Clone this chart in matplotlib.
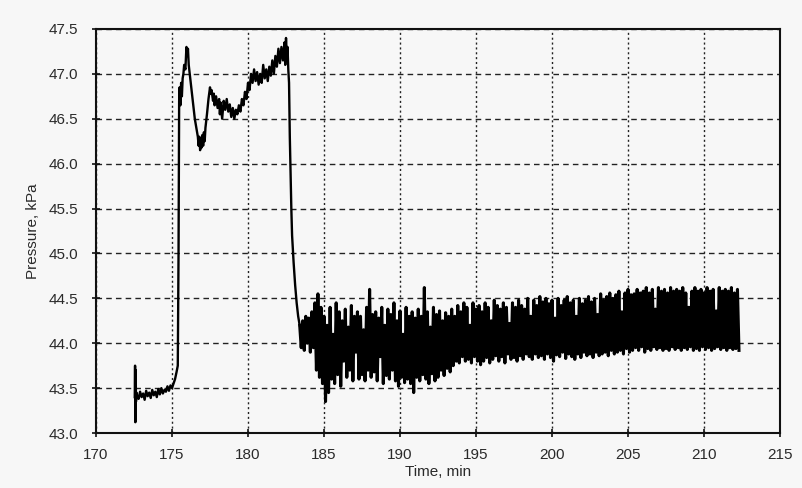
import matplotlib
matplotlib.use("Agg")
from matplotlib import pyplot as plt
import numpy as np

plt.rcParams['font.family'] = ['Liberation Sans', 'DejaVu Sans']

# start-up and first rise (min, kPa)
t_start = [172.55, 172.57, 172.59, 172.61, 172.63, 172.66,
           172.7, 172.8, 172.9, 173.0, 173.1, 173.2, 173.3, 173.4, 173.5, 173.6,
           173.7, 173.8, 173.9, 174.0, 174.1, 174.2, 174.3, 174.4, 174.5, 174.6,
           174.7, 174.8, 174.9, 175.0, 175.1, 175.2, 175.3, 175.38, 175.43, 175.47]
p_start = [43.40, 43.75, 43.12, 43.70, 43.35, 43.45,
           43.42, 43.38, 43.46, 43.40, 43.44, 43.37, 43.47, 43.41, 43.45, 43.39,
           43.48, 43.42, 43.46, 43.40, 43.49, 43.43, 43.50, 43.44, 43.48, 43.46,
           43.52, 43.47, 43.53, 43.50, 43.55, 43.60, 43.68, 43.75, 45.00, 46.70]

# high-pressure period and drop
t_high = [175.5, 175.55, 175.6, 175.65, 175.7, 175.75, 175.8, 175.88, 175.95, 176.0,
          176.05, 176.1, 176.2, 176.3, 176.4, 176.5, 176.6, 176.7, 176.75, 176.8,
          176.85, 176.9, 176.95, 177.0, 177.05, 177.1, 177.15, 177.2, 177.3, 177.4,
          177.5, 177.55, 177.6, 177.7, 177.75, 177.8, 177.9, 178.0, 178.1, 178.15,
          178.2, 178.3, 178.4, 178.5, 178.6, 178.7, 178.8, 178.9, 179.0, 179.1,
          179.2, 179.3, 179.4, 179.5, 179.6, 179.7, 179.8, 179.9, 180.0, 180.1,
          180.2, 180.3, 180.4, 180.5, 180.6, 180.7, 180.8, 180.9, 181.0, 181.1,
          181.2, 181.3, 181.4, 181.5, 181.6, 181.7, 181.8, 181.9, 182.0, 182.1,
          182.2, 182.3, 182.4, 182.45, 182.5, 182.55, 182.6, 182.65, 182.7, 182.75,
          182.8, 182.85, 182.9, 183.0, 183.1, 183.2, 183.3]
p_high = [46.85, 46.65, 46.90, 46.75, 46.95, 47.00, 47.10, 47.05, 47.30, 47.20,
          47.28, 47.10, 46.95, 46.80, 46.65, 46.50, 46.40, 46.30, 46.20, 46.30,
          46.15, 46.28, 46.18, 46.32, 46.20, 46.35, 46.25, 46.40, 46.55, 46.72,
          46.85, 46.78, 46.82, 46.70, 46.78, 46.65, 46.75, 46.62, 46.72, 46.55,
          46.68, 46.50, 46.70, 46.60, 46.72, 46.58, 46.66, 46.52, 46.62, 46.50,
          46.60, 46.55, 46.65, 46.58, 46.72, 46.65, 46.80, 46.72, 46.90, 46.82,
          47.00, 46.90, 47.05, 46.92, 47.02, 46.88, 47.00, 46.90, 47.10, 46.95,
          47.05, 46.92, 47.08, 46.98, 47.15, 47.00, 47.20, 47.08, 47.28, 47.12,
          47.30, 47.15, 47.35, 47.10, 47.40, 47.20, 47.30, 47.05, 46.90, 46.30,
          45.90, 45.50, 45.20, 44.90, 44.65, 44.45, 44.30]

# noisy period, logged every 0.1 min from 183.4 min
noise_t0 = 183.4
noise_dt = 0.1
p_noise = [
    44.20, 43.95, 44.25, 43.92, 44.30, 44.00, 44.28, 43.90, 44.35, 43.95,
    44.45, 43.70, 44.55, 43.62, 44.40, 43.55, 44.30, 43.35, 44.20, 43.45,
    44.40, 43.60, 44.10, 43.55, 44.45, 43.65, 44.35, 43.52, 44.25, 43.80,
    44.38, 43.62, 44.18, 43.70, 44.42, 43.58, 44.30, 43.90, 44.35, 43.60,
    44.30, 43.65, 44.15, 43.58, 44.40, 43.70, 44.60, 43.62, 44.32, 43.68,
    44.35, 43.58, 44.28, 43.85, 44.40, 43.55, 44.20, 43.64, 44.38, 43.60,
    44.32, 43.70, 44.45, 43.58, 44.25, 43.52, 44.36, 43.62, 44.10, 43.56,
    44.40, 43.60, 44.30, 43.55, 44.35, 43.45, 44.28, 43.62, 44.38, 43.58,
    44.30, 43.65, 44.62, 43.60, 44.35, 43.55, 44.18, 43.66, 44.40, 43.58,
    44.32, 43.62, 44.36, 43.70, 44.25, 43.64, 44.34, 43.72, 44.30, 43.68,
    44.38, 43.75, 44.30, 43.80, 44.42, 43.78, 44.35, 43.85, 44.45, 43.80,
    44.40, 43.82, 44.20, 43.78, 44.45, 43.85, 44.38, 43.80, 44.42, 43.76,
    44.35, 43.80, 44.45, 43.84, 44.40, 43.78, 44.25, 43.82, 44.48, 43.86,
    44.42, 43.80, 44.38, 43.85, 44.45, 43.78, 44.40, 43.88, 44.22, 43.82,
    44.45, 43.84, 44.40, 43.80, 44.48, 43.86, 44.42, 43.82, 44.38, 43.88,
    44.50, 43.85, 44.30, 43.82, 44.48, 43.88, 44.42, 43.84, 44.52, 43.86,
    44.46, 43.82, 44.50, 43.88, 44.44, 43.84, 44.48, 43.80, 44.28, 43.87,
    44.50, 43.85, 44.42, 43.90, 44.48, 43.83, 44.52, 43.88, 44.45, 43.85,
    44.48, 43.82, 44.30, 43.88, 44.50, 43.84, 44.44, 43.90, 44.48, 43.86,
    44.52, 43.88, 44.46, 43.84, 44.50, 43.90, 44.32, 43.86, 44.55, 43.88,
    44.48, 43.90, 44.52, 43.86, 44.56, 43.92, 44.50, 43.88, 44.54, 43.90,
    44.58, 43.92, 44.35, 43.88, 44.56, 43.94, 44.60, 43.90, 44.54, 43.92,
    44.55, 43.95, 44.60, 43.92, 44.56, 43.96, 44.58, 43.90, 44.62, 43.94,
    44.56, 43.92, 44.60, 43.96, 44.38, 43.93, 44.62, 43.95, 44.58, 43.92,
    44.60, 43.94, 44.56, 43.92, 44.62, 43.96, 44.58, 43.93, 44.60, 43.95,
    44.58, 43.92, 44.62, 43.95, 44.56, 43.93, 44.40, 43.96, 44.58, 43.92,
    44.62, 43.94, 44.58, 43.92, 44.60, 43.96, 44.56, 43.93, 44.62, 43.95,
    44.58, 43.92, 44.60, 43.94, 44.36, 43.96, 44.62, 43.93, 44.58, 43.95,
    44.60, 43.92, 44.58, 43.95, 44.62, 43.93, 44.56, 43.94, 44.60, 43.92,
]
t_noise = noise_t0 + noise_dt * np.arange(len(p_noise))

fig = plt.figure(figsize=(8.02, 4.88), dpi=100, facecolor='#f7f7f7')
ax = fig.add_axes([0.1197, 0.1127, 0.8529, 0.8279])
ax.set_facecolor('#f7f7f7')

t_main = np.concatenate([t_start, t_high, t_noise[:1]])
p_main = np.concatenate([p_start, p_high, p_noise[:1]])
ax.plot(t_main, p_main, color='black', lw=1.7)
ax.plot(t_noise, p_noise, color='black', lw=2.2)

ax.set_xlim(170, 215)
ax.set_ylim(43.0, 47.5)
ax.set_xticks(np.arange(170, 216, 5))
ax.set_yticks(np.arange(43.0, 47.51, 0.5))
ax.set_yticklabels([f'{v:.1f}' for v in np.arange(43.0, 47.51, 0.5)])

ax.yaxis.grid(True, color='#222222', lw=1.0, linestyle=(0, (4, 3)))
ax.xaxis.grid(True, color='#222222', lw=1.0, linestyle=(0, (1.5, 2)))
ax.set_axisbelow(True)

for s in ax.spines.values():
    s.set_linewidth(1.5)
    s.set_color('#111111')

ax.tick_params(direction='inout', length=6, width=1.2, labelsize=11,
               labelcolor='#2a2a2a', color='#111111')
ax.tick_params(axis='y', pad=10)
ax.tick_params(axis='x', pad=8)
ax.set_xlabel('Time, min', fontsize=11, color='#2a2a2a', labelpad=2)
ax.set_ylabel('Pressure, kPa', fontsize=11, color='#2a2a2a', labelpad=6)

fig.savefig('out.png', dpi=100, facecolor=fig.get_facecolor())
